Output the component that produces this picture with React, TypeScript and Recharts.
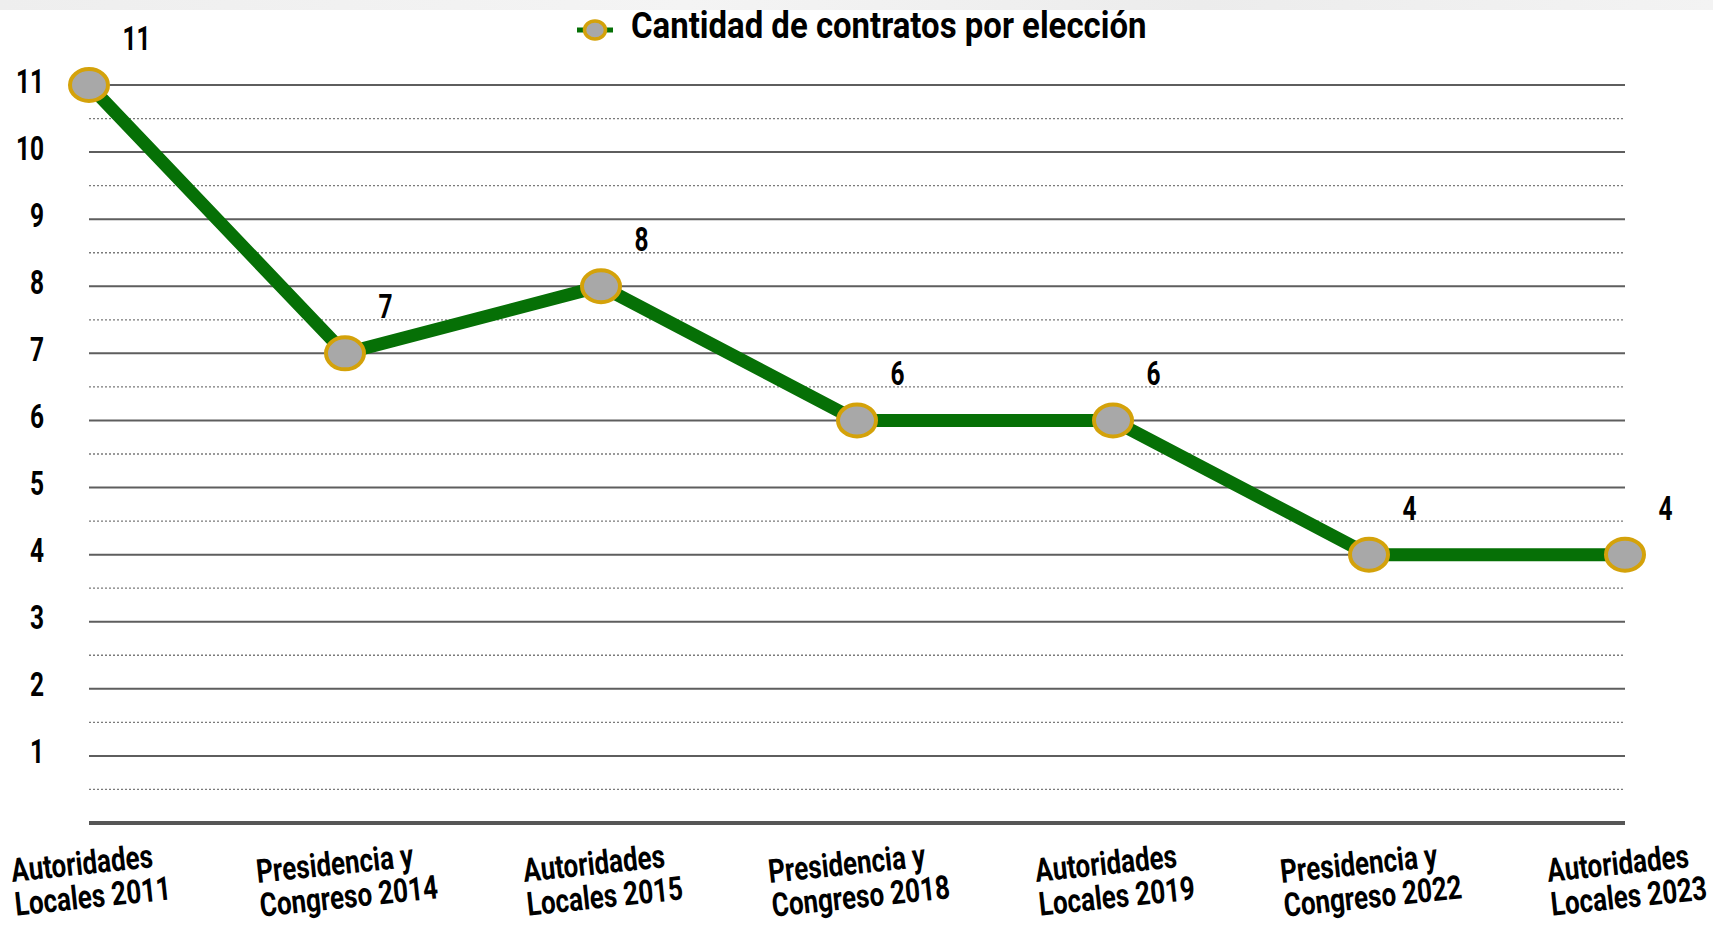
import React from 'react';
import { LineChart, Line, XAxis, YAxis, ReferenceLine, LabelList, Legend } from 'recharts';

const categories = [
  'Autoridades\nLocales 2011',
  'Presidencia y\nCongreso 2014',
  'Autoridades\nLocales 2015',
  'Presidencia y\nCongreso 2018',
  'Autoridades\nLocales 2019',
  'Presidencia y\nCongreso 2022',
  'Autoridades\nLocales 2023',
];
const contratos = [11, 7, 8, 6, 6, 4, 4];
const seriesName = 'Cantidad de contratos por elección';
const yTicks = [1, 2, 3, 4, 5, 6, 7, 8, 9, 10, 11];
const majorGrid = [1, 2, 3, 4, 5, 6, 7, 8, 9, 10, 11];
const minorGrid = [0.5, 1.5, 2.5, 3.5, 4.5, 5.5, 6.5, 7.5, 8.5, 9.5, 10.5];

const data = categories.map((c, i) => ({ category: c, value: contratos[i] }));

const FONT = "Roboto, 'Noto Sans', 'DejaVu Sans', sans-serif";
const GREEN = '#067006';
const GOLD = '#d4a20a';
const GRAY = '#a8a8a8';

const NUM_SIZE = 34;
const NUM_SX = 0.72;
const XL_SIZE = 33;
const XL_SX = 0.79;
const LEG_SIZE = 37;
const LEG_SX = 0.89;

let ctx: CanvasRenderingContext2D | null = null;
function measure(text: string, font: string): number {
  if (!ctx) ctx = document.createElement('canvas').getContext('2d');
  if (!ctx) return text.length * 14;
  ctx.font = font;
  return ctx.measureText(text).width;
}

const XTick = (props: any) => {
  const { x, y, payload } = props;
  const lines = String(payload.value).split('\n');
  const font = `bold ${XL_SIZE}px ${FONT}`;
  const w = Math.max(...lines.map((l) => measure(l, font))) * XL_SX;
  return (
    <g transform={`translate(${x + 2},${y + 56}) rotate(-6)`}>
      {lines.map((l, i) => (
        <text
          key={i}
          transform={`translate(${-w / 2},${(i - 0.5) * 34}) scale(${XL_SX},1)`}
          x={0}
          y={0}
          dominantBaseline="central"
          textAnchor="start"
          fontFamily={FONT}
          fontWeight="bold"
          fontSize={XL_SIZE}
          fill="#000"
        >
          {l}
        </text>
      ))}
    </g>
  );
};

const YTick = (props: any) => {
  const { x, y, payload } = props;
  return (
    <text
      transform={`translate(${x},${y + 7.5}) scale(${NUM_SX},1)`}
      x={0}
      y={0}
      textAnchor="end"
      fontFamily={FONT}
      fontWeight="bold"
      fontSize={NUM_SIZE}
      fill="#000"
    >
      {payload.value}
    </text>
  );
};

const Dot = (props: any) => {
  const { cx, cy, index } = props;
  if (cx == null || cy == null) return null;
  return <ellipse key={`d${index}`} cx={cx} cy={cy} rx={19} ry={16} fill={GRAY} stroke={GOLD} strokeWidth={4} />;
};

const renderLabel = (props: any) => {
  const vb = props.viewBox || {};
  const x = props.x ?? vb.x;
  const y = props.y ?? vb.y;
  return (
    <text
      transform={`translate(${x + 33.5},${y - 35}) scale(${NUM_SX},1)`}
      x={0}
      y={0}
      textAnchor="start"
      fontFamily={FONT}
      fontWeight="bold"
      fontSize={NUM_SIZE}
      fill="#000"
    >
      {props.value}
    </text>
  );
};

const LegendContent = () => (
  <div style={{ position: 'relative', width: 1713, height: 56 }}>
    <svg style={{ position: 'absolute', left: 575, top: 13 }} width={40} height={34}>
      <line x1={2} y1={17} x2={38} y2={17} stroke={GREEN} strokeWidth={5} />
      <ellipse cx={20} cy={17} rx={10.5} ry={9} fill={GRAY} stroke={GOLD} strokeWidth={3.5} />
    </svg>
    <span
      style={{
        position: 'absolute',
        left: 631,
        top: 6,
        fontFamily: FONT,
        fontWeight: 'bold',
        fontSize: LEG_SIZE,
        lineHeight: '40px',
        color: '#000',
        whiteSpace: 'nowrap',
        transform: `scaleX(${LEG_SX})`,
        transformOrigin: 'left center',
      }}
    >
      {seriesName}
    </span>
  </div>
);

export default function App() {
  return (
    <div style={{ position: 'absolute', left: 0, top: 0, width: 1713, height: 926, background: '#fff' }}>
      <div
        style={{
          position: 'absolute',
          left: 0,
          top: 0,
          width: 1713,
          height: 10,
          background: 'linear-gradient(90deg, #eeeeee, #f4f4f4 40%, #ececec 70%, #f3f3f3)',
        }}
      />
      <LineChart
        width={1713}
        height={926}
        data={data}
        margin={{ top: 85, right: 88, bottom: 43, left: 0 }}
        style={{ position: 'absolute', left: 0, top: 0 }}
      >
        <XAxis
          dataKey="category"
          type="category"
          height={60}
          axisLine={{ stroke: '#565656', strokeWidth: 4 }}
          tickLine={false}
          tickSize={0}
          tickMargin={0}
          interval={0}
          tick={<XTick />}
        />
        <YAxis
          type="number"
          domain={[0, 11]}
          ticks={yTicks}
          width={89}
          axisLine={false}
          tickLine={false}
          tickSize={0}
          tickMargin={45}
          tick={<YTick />}
        />
        {minorGrid.map((v) => (
          <ReferenceLine key={`m${v}`} y={v} stroke="#7a7a7a" strokeWidth={1.3} strokeDasharray="2 2" />
        ))}
        {majorGrid.map((v) => (
          <ReferenceLine key={`M${v}`} y={v} stroke="#5e5e5e" strokeWidth={2} />
        ))}
        <Legend
          layout="horizontal"
          verticalAlign="middle"
          align="center"
          content={<LegendContent />}
          wrapperStyle={{ position: 'absolute', top: 0, left: 0, width: 1713, height: 56 }}
        />
        <Line
          dataKey="value"
          name={seriesName}
          stroke={GREEN}
          strokeWidth={13}
          dot={<Dot />}
          activeDot={false}
          isAnimationActive={false}
        >
          <LabelList dataKey="value" content={renderLabel} />
        </Line>
      </LineChart>
    </div>
  );
}
